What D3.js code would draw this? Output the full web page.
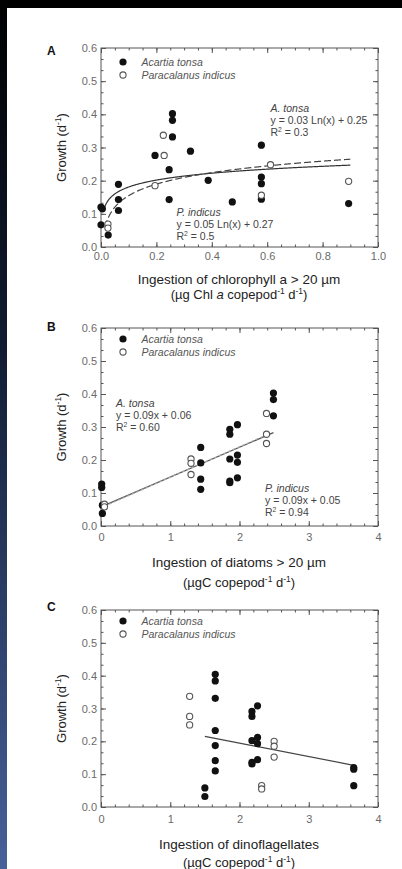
<!DOCTYPE html>
<html><head><meta charset="utf-8">
<script src="https://cdn.jsdelivr.net/npm/d3@7"></script>
<style>
html,body{margin:0;padding:0;background:#000;}
svg{display:block;font-family:"Liberation Sans",Arial,sans-serif;}
</style></head><body>
<svg id="chart" width="402" height="869"></svg>
<script>
// ---------------- DATA ----------------
const seriesNames = ["Acartia tonsa", "Paracalanus indicus"];
const yTicks = [0.0, 0.1, 0.2, 0.3, 0.4, 0.5, 0.6];
const xTicksA = [0.0, 0.2, 0.4, 0.6, 0.8, 1.0];
const xTicksBC = [0, 1, 2, 3, 4];

// Panel A: ingestion of chlorophyll a > 20 µm
const aTonsaX = [0.0, 0.005, 0.0, 0.026, 0.063, 0.063, 0.063, 0.195, 0.246, 0.246, 0.258, 0.258, 0.258, 0.323, 0.387, 0.474, 0.579, 0.579, 0.579, 0.579, 0.894];
const aTonsaY = [0.120, 0.115, 0.067, 0.036, 0.189, 0.143, 0.110, 0.276, 0.233, 0.143, 0.402, 0.382, 0.332, 0.289, 0.201, 0.136, 0.307, 0.211, 0.191, 0.144, 0.131];
const aIndicusX = [0.225, 0.228, 0.195, 0.579, 0.612, 0.894, 0.025, 0.025];
const aIndicusY = [0.337, 0.276, 0.185, 0.156, 0.248, 0.198, 0.069, 0.057];
// fitted curves y = a*ln(x) + b  (coefficients, x-range)
const aTonsaFit = [0.03, 0.25];
const aTonsaFitRange = [0.012, 0.9];
const aIndicusFit = [0.05, 0.27];
const aIndicusFitRange = [0.015, 0.9];

// Panel B: ingestion of diatoms > 20 µm
const bTonsaX = [0.01, 0.01, 0.02, 0.02, 1.44, 1.44, 1.44, 1.44, 1.86, 1.86, 1.86, 1.86, 1.86, 1.97, 1.97, 1.97, 1.97, 2.49, 2.49, 2.49];
const bTonsaY = [0.127, 0.117, 0.063, 0.038, 0.238, 0.191, 0.142, 0.111, 0.293, 0.278, 0.203, 0.136, 0.131, 0.307, 0.215, 0.193, 0.146, 0.403, 0.383, 0.334];
const bIndicusX = [2.39, 2.39, 2.39, 1.30, 1.30, 1.30, 0.05, 0.05];
const bIndicusY = [0.341, 0.278, 0.250, 0.203, 0.190, 0.156, 0.066, 0.058];
const bTonsaLineX = [0.0, 2.49];
const bTonsaLineY = [0.058, 0.283];
const bIndicusLineX = [0.05, 2.39];
const bIndicusLineY = [0.060, 0.276];

// Panel C: ingestion of dinoflagellates
const cTonsaX = [1.65, 1.65, 1.65, 1.65, 1.65, 1.65, 1.65, 1.50, 1.50, 2.18, 2.18, 2.26, 2.18, 2.26, 2.26, 2.18, 2.18, 2.26, 3.65, 3.65, 3.65];
const cTonsaY = [0.404, 0.384, 0.331, 0.233, 0.187, 0.141, 0.110, 0.058, 0.032, 0.291, 0.276, 0.308, 0.202, 0.212, 0.193, 0.131, 0.136, 0.144, 0.120, 0.115, 0.065];
const cIndicusX = [1.28, 1.28, 1.28, 2.50, 2.50, 2.50, 2.32, 2.32];
const cIndicusY = [0.337, 0.276, 0.250, 0.200, 0.185, 0.152, 0.065, 0.055];
const cLineX = [1.50, 3.65];
const cLineY = [0.215, 0.127];

// ---------------- DRAW ----------------
const W = 402, H = 869;
const svg = d3.select("#chart");
const defs = svg.append("defs");
const grad = defs.append("linearGradient").attr("id", "side")
  .attr("x1", 0).attr("y1", 0).attr("x2", 0).attr("y2", 1);
grad.append("stop").attr("offset", "0%").attr("stop-color", "#000");
grad.append("stop").attr("offset", "40%").attr("stop-color", "#111c33");
grad.append("stop").attr("offset", "100%").attr("stop-color", "#46619a");
svg.append("rect").attr("width", W).attr("height", H).attr("fill", "#000");
svg.append("rect").attr("x", 0).attr("y", 0).attr("width", 7).attr("height", H).attr("fill", "url(#side)");
svg.append("rect").attr("x", 7).attr("y", 8).attr("width", W - 7).attr("height", H - 8).attr("fill", "#fff");

function rich(sel, parts, size) {
  let shifted = false;
  parts.forEach(p => {
    const t = sel.append("tspan").text(p.t);
    if (p.it) t.attr("font-style", "italic");
    if (p.sup) {
      t.attr("font-size", size * 0.65).attr("dy", -size * 0.38);
      shifted = true;
    } else if (shifted) {
      t.attr("dy", size * 0.38);
      shifted = false;
    }
  });
}

const panels = [
  {
    letter: "A", top: 48, bottom: 247, letterY: 55, xMax: 1, xMajor: xTicksA, xMinorStep: 0.05,
    xFmt: d3.format(".1f"), xPad: 5,
    t1: [{t: "Ingestion of chlorophyll a > 20 \u00b5m"}],
    t2: [{t: "(\u00b5g Chl "}, {t: "a", it: true}, {t: " copepod"}, {t: "-1", sup: true}, {t: " d"}, {t: "-1", sup: true}, {t: ")"}],
    t1Y: 284, t2Y: 299, legY: 62,
    tonsa: [aTonsaX, aTonsaY], indicus: [aIndicusX, aIndicusY],
    ann: [
      {x: 270.5, y: 112, lines: [[{t: "A. tonsa", it: true}], [{t: "y = 0.03 Ln(x) + 0.25"}], [{t: "R"}, {t: "2", sup: true}, {t: " = 0.3"}]]},
      {x: 176.5, y: 215.5, lines: [[{t: "P. indicus", it: true}], [{t: "y = 0.05 Ln(x) + 0.27"}], [{t: "R"}, {t: "2", sup: true}, {t: " = 0.5"}]]}
    ]
  },
  {
    letter: "B", top: 328, bottom: 526, letterY: 331, xMax: 4, xMajor: xTicksBC, xMinorStep: 0.2,
    xFmt: d3.format("d"), xPad: 7,
    t1: [{t: "Ingestion of diatoms > 20 \u00b5m"}],
    t2: [{t: "(\u00b5gC copepod"}, {t: "-1", sup: true}, {t: " d"}, {t: "-1", sup: true}, {t: ")"}],
    t1Y: 567, t2Y: 587, legY: 339,
    tonsa: [bTonsaX, bTonsaY], indicus: [bIndicusX, bIndicusY],
    ann: [
      {x: 116, y: 406.5, lines: [[{t: "A. tonsa", it: true}], [{t: "y = 0.09x + 0.06"}], [{t: "R"}, {t: "2", sup: true}, {t: " = 0.60"}]]},
      {x: 265, y: 492, lines: [[{t: "P. indicus", it: true}], [{t: "y = 0.09x + 0.05"}], [{t: "R"}, {t: "2", sup: true}, {t: " = 0.94"}]]}
    ]
  },
  {
    letter: "C", top: 610, bottom: 807, letterY: 611, xMax: 4, xMajor: xTicksBC, xMinorStep: 0.2,
    xFmt: d3.format("d"), xPad: 8,
    t1: [{t: "Ingestion of dinoflagellates"}],
    t2: [{t: "(\u00b5gC copepod"}, {t: "-1", sup: true}, {t: " d"}, {t: "-1", sup: true}, {t: ")"}],
    t1Y: 849, t2Y: 867, legY: 621,
    tonsa: [cTonsaX, cTonsaY], indicus: [cIndicusX, cIndicusY],
    ann: []
  }
];

const L = 101, R = 378;
const frameCol = "#555";

panels.forEach((p, pi) => {
  const x = d3.scaleLinear().domain([0, p.xMax]).range([L, R]);
  const y = d3.scaleLinear().domain([0, 0.6]).range([p.bottom, p.top]);
  const g = svg.append("g");

  const xMinor = d3.range(0, p.xMax + 1e-9, p.xMinorStep);
  const yMinor = d3.range(0, 0.6 + 1e-9, 0.1 / 3);

  function styleAxis(a) {
    a.select(".domain").remove();
    a.selectAll("line").attr("stroke", frameCol).attr("stroke-width", 1);
    a.selectAll("text").attr("fill", "#6a6a6a").attr("font-size", 11);
  }
  function noText(a) { a.selectAll("text").remove(); }
  // minor ticks
  [[d3.axisBottom(x), p.bottom], [d3.axisTop(x), p.top]].forEach(([ax, pos]) => {
    g.append("g").attr("transform", `translate(0,${pos})`)
      .call(ax.tickValues(xMinor).tickSize(-2.5).tickFormat("")).call(styleAxis).call(noText);
  });
  [[d3.axisLeft(y), L], [d3.axisRight(y), R]].forEach(([ax, pos]) => {
    g.append("g").attr("transform", `translate(${pos},0)`)
      .call(ax.tickValues(yMinor).tickSize(-2.5).tickFormat("")).call(styleAxis).call(noText);
  });
  // major ticks + labels
  g.append("g").attr("transform", `translate(0,${p.bottom})`)
    .call(d3.axisBottom(x).tickValues(p.xMajor).tickSize(-5).tickPadding(p.xPad).tickFormat(p.xFmt)).call(styleAxis);
  g.append("g").attr("transform", `translate(0,${p.top})`)
    .call(d3.axisTop(x).tickValues(p.xMajor).tickSize(-5).tickFormat("")).call(styleAxis).call(noText);
  g.append("g").attr("transform", `translate(${L},0)`)
    .call(d3.axisLeft(y).tickValues(yTicks).tickSize(-5).tickPadding(4).tickFormat(d3.format(".1f"))).call(styleAxis);
  g.append("g").attr("transform", `translate(${R},0)`)
    .call(d3.axisRight(y).tickValues(yTicks).tickSize(-5).tickFormat("")).call(styleAxis).call(noText);

  // frame
  g.append("rect").attr("x", L).attr("y", p.top).attr("width", R - L).attr("height", p.bottom - p.top)
    .attr("fill", "none").attr("stroke", frameCol).attr("stroke-width", 1);

  // panel letter
  g.append("text").attr("x", 47).attr("y", p.letterY).attr("font-size", 12).attr("font-weight", "bold")
    .attr("fill", "#111").text(p.letter);

  // y title
  const yt = g.append("text").attr("transform", `translate(66,${(p.top + p.bottom) / 2}) rotate(-90)`)
    .attr("text-anchor", "middle").attr("font-size", 13).attr("fill", "#222");
  rich(yt, [{t: "Growth (d"}, {t: "-1", sup: true}, {t: ")"}], 13);

  // x titles
  const t1 = g.append("text").attr("x", 239).attr("y", p.t1Y).attr("text-anchor", "middle")
    .attr("font-size", 13.5).attr("fill", "#222");
  rich(t1, p.t1, 13.5);
  const t2 = g.append("text").attr("x", 239).attr("y", p.t2Y).attr("text-anchor", "middle")
    .attr("font-size", 13).attr("fill", "#222");
  rich(t2, p.t2, 13);

  // lines
  const line = d3.line().x(d => x(d[0])).y(d => y(d[1]));
  if (pi === 0) {
    const curve = (coef, rng) => {
      const xs = d3.range(rng[0], rng[1], 0.002).concat([rng[1]]);
      return xs.map(v => [v, coef[0] * Math.log(v) + coef[1]]);
    };
    g.append("path").datum(curve(aTonsaFit, aTonsaFitRange)).attr("d", line)
      .attr("fill", "none").attr("stroke", "#333").attr("stroke-width", 1.2);
    g.append("path").datum(curve(aIndicusFit, aIndicusFitRange)).attr("d", line)
      .attr("fill", "none").attr("stroke", "#444").attr("stroke-width", 1.2).attr("stroke-dasharray", "7,3");
  } else if (pi === 1) {
    g.append("path").datum(d3.zip(bTonsaLineX, bTonsaLineY)).attr("d", line)
      .attr("fill", "none").attr("stroke", "#555").attr("stroke-width", 1.3);
    g.append("path").datum(d3.zip(bIndicusLineX, bIndicusLineY)).attr("d", line)
      .attr("fill", "none").attr("stroke", "#aaa").attr("stroke-width", 1.2).attr("stroke-dasharray", "3,2");
  } else {
    g.append("path").datum(d3.zip(cLineX, cLineY)).attr("d", line)
      .attr("fill", "none").attr("stroke", "#444").attr("stroke-width", 1.2);
  }

  // points
  g.append("g").selectAll("circle").data(d3.zip(p.tonsa[0], p.tonsa[1])).join("circle")
    .attr("cx", d => x(d[0])).attr("cy", d => y(d[1])).attr("r", 3.6).attr("fill", "#111");
  g.append("g").selectAll("circle").data(d3.zip(p.indicus[0], p.indicus[1])).join("circle")
    .attr("cx", d => x(d[0])).attr("cy", d => y(d[1])).attr("r", 3.1)
    .attr("fill", "#fff").attr("stroke", "#555").attr("stroke-width", 1.1);

  // legend
  const lg = g.append("g");
  lg.append("circle").attr("cx", 123).attr("cy", p.legY).attr("r", 3.6).attr("fill", "#111");
  lg.append("circle").attr("cx", 123).attr("cy", p.legY + 13).attr("r", 3.1)
    .attr("fill", "#fff").attr("stroke", "#555").attr("stroke-width", 1.1);
  seriesNames.forEach((n, i) => {
    lg.append("text").attr("x", 141.5).attr("y", p.legY + i * 13 + 3.5).attr("font-size", 10.5)
      .attr("font-style", "italic").attr("fill", "#555").text(n);
  });

  // annotations
  p.ann.forEach(a => {
    a.lines.forEach((ln, i) => {
      const t = g.append("text").attr("x", a.x).attr("y", a.y + i * 12).attr("font-size", 10.5).attr("fill", "#444");
      rich(t, ln, 10.5);
    });
  });
});
</script></body></html>
